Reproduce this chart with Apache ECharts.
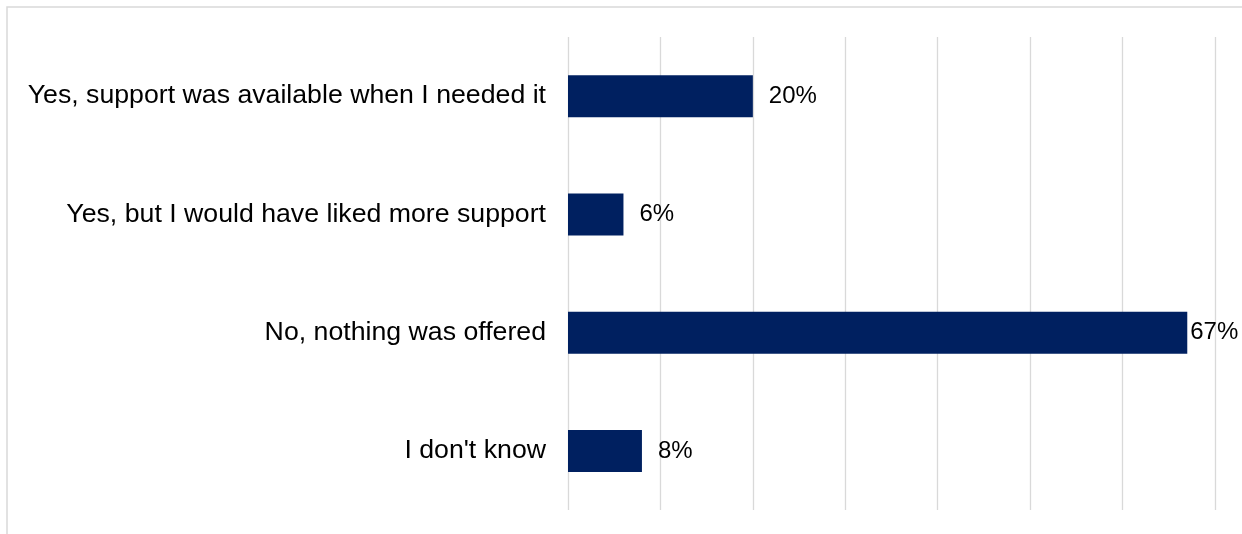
<!DOCTYPE html>
<html>
<head>
<meta charset="utf-8">
<script src="https://cdn.jsdelivr.net/npm/echarts@6/dist/echarts.min.js"></script>
<style>
  html, body { margin: 0; padding: 0; background: #ffffff; }
  #chart { width: 1242px; height: 534px; }
</style>
</head>
<body>
<div id="chart"></div>
<script>
// Survey answers, top to bottom
const categories = [
  'Yes, support was available when I needed it',
  'Yes, but I would have liked more support',
  'No, nothing was offered',
  "I don't know"
];
// Share of respondents (%)
const shares = [20, 6, 67, 8];
// Percentage scale
const axisMin = 0;
const axisMax = 70;
const axisStep = 10;

const FONT = '"Liberation Sans", Arial, sans-serif';

const chart = echarts.init(document.getElementById('chart'), null, { renderer: 'canvas' });

chart.setOption({
  animation: false,
  backgroundColor: '#ffffff',
  graphic: [{
    type: 'rect',
    shape: { x: 7, y: 7, width: 1400, height: 700 },
    style: { fill: 'none', stroke: '#d9d9d9', lineWidth: 1.5 },
    silent: true
  }],
  grid: { left: 568, right: 27, top: 37, bottom: 24 },
  xAxis: {
    type: 'value',
    min: axisMin,
    max: axisMax,
    interval: axisStep,
    axisLabel: { show: false },
    axisLine: { show: false },
    axisTick: { show: false },
    splitLine: { show: true, lineStyle: { color: '#d9d9d9', width: 1.3 } }
  },
  yAxis: {
    type: 'category',
    data: categories,
    inverse: true,
    axisLine: { show: false },
    axisTick: { show: false },
    axisLabel: {
      margin: 22,
      color: '#000000',
      fontFamily: FONT,
      fontSize: 26.7
    }
  },
  series: [{
    type: 'bar',
    barWidth: 42,
    itemStyle: { color: '#002060' },
    label: {
      show: true,
      position: 'right',
      distance: 16,
      color: '#000000',
      fontFamily: FONT,
      fontSize: 24,
      formatter: p => Math.round(p.value) + '%'
    },
    data: shares.map(v => v > 60 ? { value: v, label: { distance: 3 } } : v)
  }]
});
</script>
</body>
</html>
